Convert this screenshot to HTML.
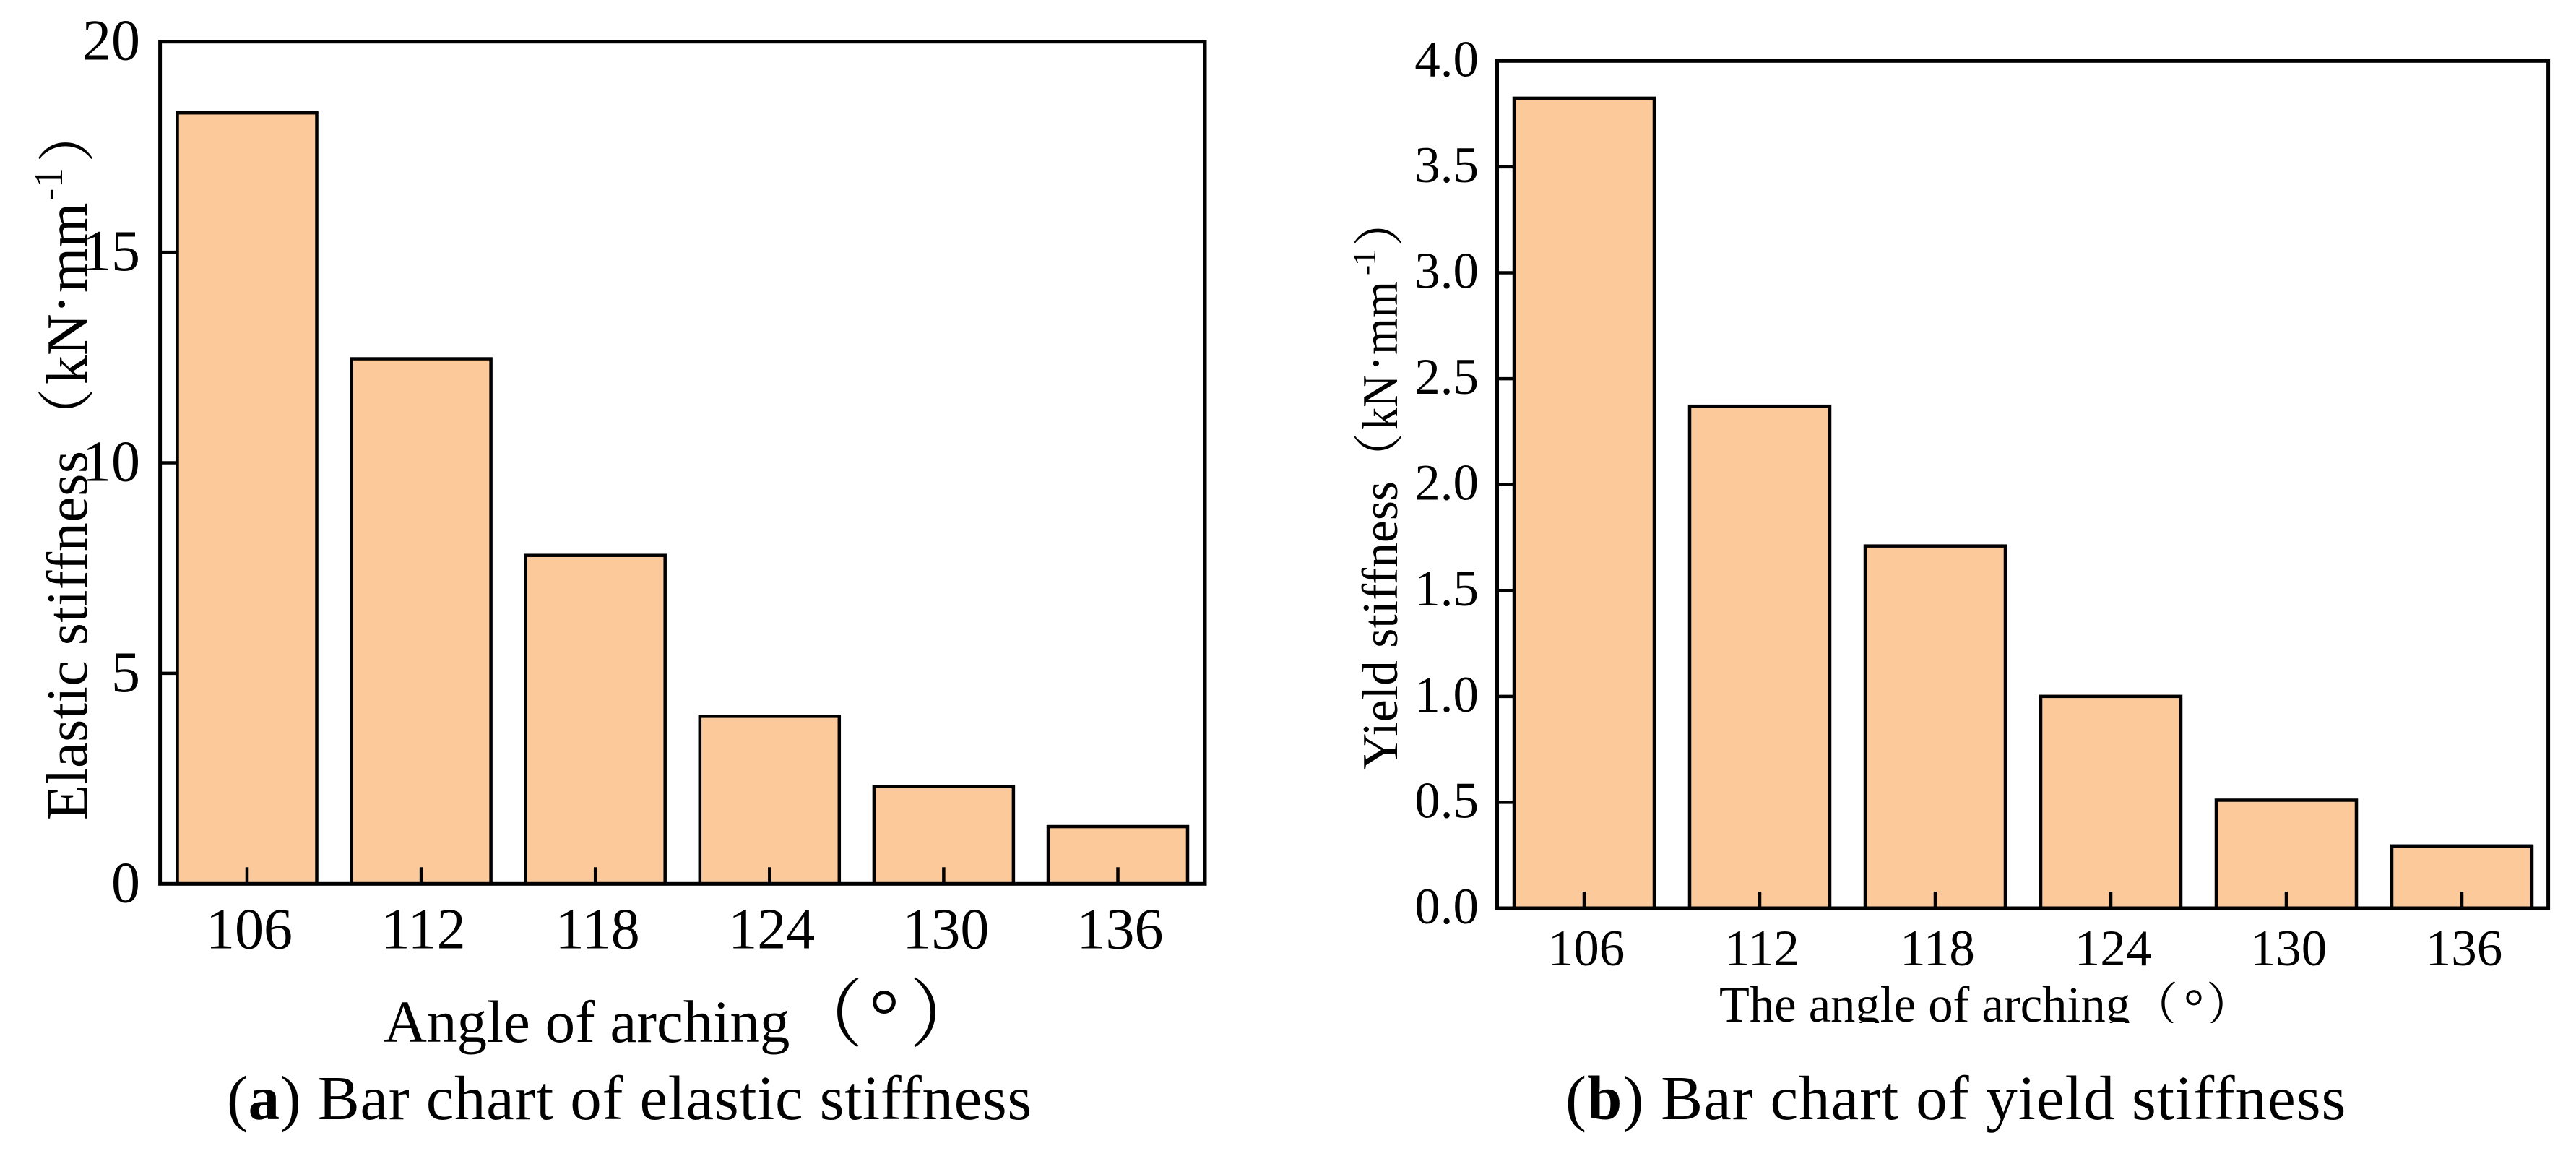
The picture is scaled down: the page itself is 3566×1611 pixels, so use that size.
<!DOCTYPE html>
<html>
<head>
<meta charset="utf-8">
<style>
html,body{margin:0;padding:0;background:#fff;}
svg{display:block;}
text{font-family:"Liberation Serif","Noto Serif CJK SC",serif;fill:#000;}
.cjk{font-family:"Noto Serif CJK SC","Liberation Serif",serif;}
</style>
</head>
<body>
<svg id="fig" xmlns="http://www.w3.org/2000/svg" width="3566" height="1611" viewBox="0 0 3566 1611">
<defs><clipPath id="clipb"><rect x="2300" y="1340" width="900" height="76"/></clipPath></defs>
<rect x="0" y="0" width="3566" height="1611" fill="#fff"/>
<g id="chartA"></g>
<g id="chartB"></g>

<g>
<text transform="translate(120,1135) rotate(-90)" font-size="80" textLength="511" lengthAdjust="spacing">Elastic stiffness</text>
<text class="cjk" transform="translate(121,617) rotate(-90)" font-size="80">（</text>
<text transform="translate(120,532) rotate(-90)" font-size="80">kN</text>
<text transform="translate(112,421) rotate(-90)" font-size="80" text-anchor="middle">·</text>
<text transform="translate(120,405) rotate(-90)" font-size="80">mm</text>
<text transform="translate(83,277) rotate(-90)" font-size="48">-</text>
<text transform="translate(86,260) rotate(-90)" font-size="56">1</text>
<text class="cjk" transform="translate(121,225) rotate(-90)" font-size="80">）</text>
</g>
<g>
<text x="531" y="1442" font-size="83">Angle of arching</text>
<text class="cjk" x="1092" y="1440" font-size="103">（</text>
<text x="1224" y="1441" font-size="105" text-anchor="middle">°</text>
<text class="cjk" x="1259" y="1440" font-size="103">）</text>
</g>
<text x="314" y="1549" font-size="87" letter-spacing="0.65">(<tspan font-weight="bold">a</tspan>) Bar chart of elastic stiffness</text>

<g>
<text transform="translate(1934,1065) rotate(-90)" font-size="70" textLength="399" lengthAdjust="spacingAndGlyphs">Yield stiffness</text>
<text class="cjk" transform="translate(1934,669) rotate(-90)" font-size="70">（</text>
<text transform="translate(1934,595) rotate(-90)" font-size="70" textLength="76" lengthAdjust="spacingAndGlyphs">kN</text>
<text transform="translate(1928,503) rotate(-90)" font-size="70" text-anchor="middle">·</text>
<text transform="translate(1934,491) rotate(-90)" font-size="70" textLength="102" lengthAdjust="spacingAndGlyphs">mm</text>
<text transform="translate(1904,381) rotate(-90)" font-size="42">-</text>
<text transform="translate(1904,368) rotate(-90)" font-size="46">1</text>
<text class="cjk" transform="translate(1934,341) rotate(-90)" font-size="70">）</text>
</g>
<g clip-path="url(#clipb)">
<text x="2380" y="1414" font-size="71" textLength="569" lengthAdjust="spacingAndGlyphs">The angle of arching</text>
<text class="cjk" x="2950" y="1413" font-size="65">（</text>
<text x="3037" y="1417" font-size="70" text-anchor="middle">°</text>
<text class="cjk" x="3054" y="1413" font-size="65">）</text>
</g>
<text x="2167" y="1549" font-size="87" letter-spacing="1">(<tspan font-weight="bold">b</tspan>) Bar chart of yield stiffness</text>
</svg>
<script>
const categories = ["106", "112", "118", "124", "130", "136"];
const elasticValues = [18.31, 12.47, 7.8, 3.98, 2.31, 1.36];
const yieldValues = [3.824, 2.37, 1.71, 1.0, 0.51, 0.294];
const elasticTicks = [0, 5, 10, 15, 20];
const yieldTicks = [0, 0.5, 1, 1.5, 2, 2.5, 3, 3.5, 4];

const NS = "http://www.w3.org/2000/svg";
function add(parent, tag, attrs, content) {
  const el = document.createElementNS(NS, tag);
  for (const k in attrs) el.setAttribute(k, attrs[k]);
  if (content !== undefined) el.textContent = content;
  parent.appendChild(el);
  return el;
}
function drawChart(cfg) {
  const g = document.getElementById(cfg.id);
  const xScale = i => cfg.x0 + cfg.step * i;
  const yScale = v => cfg.yBottom - (v / cfg.yMax) * (cfg.yBottom - cfg.yTop);
  cfg.values.forEach(function (v, i) {
    const bar = add(g, "rect", {
      x: xScale(i) - cfg.barW / 2, y: yScale(v), width: cfg.barW, height: yScale(0) - yScale(v),
      fill: "#fcc99a", stroke: "#000", "stroke-width": 4.5
    });
    
    
  });
  const frame = add(g, "rect", {
    x: cfg.left, y: cfg.yTop, width: cfg.right - cfg.left, height: cfg.yBottom - cfg.yTop,
    fill: "none", stroke: "#000", "stroke-width": 5
  });
  
  
  cfg.ticks.forEach(function (t) {
    const y = yScale(t);
    if (t !== 0 && t !== cfg.yMax) {
      const tick = add(g, "line", { x1: cfg.left, x2: cfg.left + 23, y1: y, y2: y, stroke: "#000", "stroke-width": 4.5 });
      
      
    }
    const lab = add(g, "text", { x: cfg.yLabelX, y: y + cfg.yLabelDy, "font-size": cfg.font, "text-anchor": "end" }, t.toFixed(cfg.decimals));
    
    
  });
  categories.forEach(function (c, i) {
    const x = xScale(i);
    const tick = add(g, "line", { x1: x, x2: x, y1: cfg.yBottom, y2: cfg.yBottom - 23, stroke: "#000", "stroke-width": 4.5 });
    
    
    const lab = add(g, "text", { x: x + 3, y: cfg.xLabelY, "font-size": cfg.font, "text-anchor": "middle" }, c);
    
    
  });
}
drawChart({
  id: "chartA", prefix: "a", values: elasticValues, ticks: elasticTicks, yMax: 20, decimals: 0,
  left: 221.6, right: 1668, yTop: 57.7, yBottom: 1223.3, x0: 342, step: 241.1, barW: 193,
  font: 80, yLabelX: 194, yLabelDy: 25, xLabelY: 1312.5
});
drawChart({
  id: "chartB", prefix: "b", values: yieldValues, ticks: yieldTicks, yMax: 4, decimals: 1,
  left: 2072.5, right: 3527.6, yTop: 84.3, yBottom: 1257, x0: 2193, step: 243, barW: 194,
  font: 71, yLabelX: 2047, yLabelDy: 21, xLabelY: 1336
});
</script>
</body>
</html>
